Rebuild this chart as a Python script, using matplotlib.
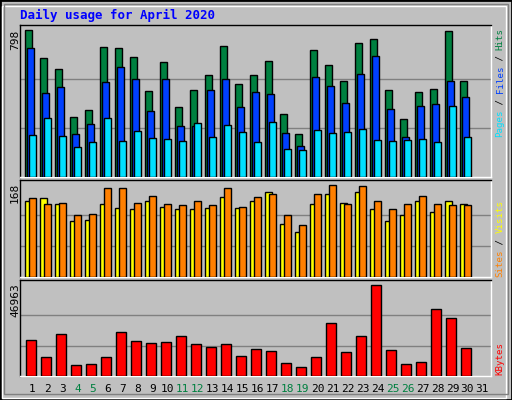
import matplotlib
matplotlib.use("Agg")
import matplotlib.pyplot as plt
import numpy as np

days = list(range(1, 32))
hits_y = [88,172,205,349,328,139,142,169,271,184,319,268,223,136,250,223,181,340,400,148,193,241,127,115,268,355,274,265,91,241]
files_y = [142,277,259,400,370,244,199,235,331,235,376,376,268,235,319,274,280,397,436,229,256,307,220,166,325,409,316,310,241,289]
pages_y = [403,352,406,439,424,352,421,391,412,415,421,367,409,373,394,424,364,445,448,388,397,394,385,418,421,418,415,424,316,409]
hits = [round((530-v)*798/442) for v in hits_y]
files = [round((530-v)*798/442) for v in files_y]
pages = [round((530-v)*798/442) for v in pages_y]
vis_y = [76,70,85,136,133,85,97,100,76,94,103,100,97,64,97,76,49,145,169,85,58,82,49,100,136,121,76,109,76,88]
site_y = [67,85,82,118,115,40,40,82,61,85,91,76,91,40,94,64,58,118,148,58,28,85,31,76,103,88,61,88,91,91]
visits = [round((305-v)*168/277) for v in vis_y]
sites = [round((305-v)*168/277) for v in site_y]
kb_y = [493,544,475,568,565,544,469,496,502,499,481,505,514,505,541,520,526,562,574,544,442,529,481,328,523,565,559,400,427,517]
kbytes = [round((602-v)*46963/274) for v in kb_y]
weekend = [4,5,11,12,18,19,25,26]
max_hits, max_sites, max_kb = 798, 168, 46963

W, H = 512, 400
fig = plt.figure(figsize=(W/100, H/100), dpi=100)
fig.patch.set_facecolor('#c0c0c0')
fig.add_artist(plt.Rectangle((0, 0), 1, 1, transform=fig.transFigure, fill=False, ec='black', lw=2))
fig.add_artist(plt.Rectangle((2/W, 2/H), 1-8/W, 1-8/H, transform=fig.transFigure, fill=False, ec='white', lw=1))
fig.add_artist(plt.Rectangle((4/W, 6/H), 1-8/W, 1-10/H, transform=fig.transFigure, fill=False, ec='#808080', lw=1))

def ax_at(x0, y0, x1, y1):
    a = fig.add_axes([x0/W, 1-y1/H, (x1-x0)/W, (y1-y0)/H])
    a.set_facecolor('#c0c0c0')
    a.set_xlim(0.67, 0.67+471/15)
    a.set_xticks([]); a.set_yticks([])
    for s in a.spines.values():
        s.set_color('white'); s.set_linewidth(1)
    a.spines['left'].set_color('black'); a.spines['top'].set_color('black')
    return a

d = np.arange(1, 31)
bw = 7/15
kw = dict(align='edge', ec='black', lw=1, zorder=3)

a1 = ax_at(20, 25, 491, 177)
for g in (1/3, 2/3):
    a1.axhline(max_hits*g, color='#808080', lw=1, zorder=1)
a1.bar(d, hits, bw, color='#008040', **kw)
a1.bar(d+2/15, files, bw, color='#0040ff', **kw)
a1.bar(d+4/15, pages, bw, color='#00e0ff', **kw)
a1.set_ylim(0, max_hits*152/147.4)

a2 = ax_at(20, 180, 491, 277)
for g in (1/3, 2/3):
    a2.axhline(max_sites*g, color='#808080', lw=1, zorder=1)
a2.bar(d, visits, bw, color='#ffff00', **kw)
a2.bar(d+4/15, sites, bw, color='#ff8000', **kw)
a2.set_ylim(0, max_sites*97/92.4)

a3 = ax_at(20, 280, 491, 376)
for g in (1/3, 2/3):
    a3.axhline(max_kb*g, color='#808080', lw=1, zorder=1)
a3.bar(d+1/15, kbytes, 10/15, color='#ff0000', **kw)
a3.set_ylim(0, max_kb*96/91.4)

mono = 'DejaVu Sans Mono'
fig.text(20/W, 1-15/H, 'Daily usage for April 2020', color='#0000ff', family=mono,
         weight='bold', fontsize=9, va='center')
fig.text(15/W, 1-40/H, str(max_hits), rotation=90, family=mono, fontsize=8, ha='center', va='center')
fig.text(15/W, 1-193/H, str(max_sites), rotation=90, family=mono, fontsize=8, ha='center', va='center')
fig.text(15/W, 1-300/H, str(max_kb), rotation=90, family=mono, fontsize=8, ha='center', va='center')

def vstack(x, ybottom, parts, adv=5.45):
    y = ybottom
    for txt, col in parts:
        fig.text(x/W, 1-y/H, txt, rotation=90, color=col, family=mono, fontsize=6.6,
                 ha='center', va='bottom')
        y -= len(txt)*adv
vstack(500, 137, [('Pages', '#00e0ff'), (' / ', '#000000'), ('Files', '#0040ff'), (' / ', '#000000'), ('Hits', '#008040')])
vstack(500, 277, [('Sites', '#ff8000'), (' / ', '#000000'), ('Visits', '#ffff00')])
vstack(500, 375, [('KBytes', '#ff0000')])

for day in days:
    x = a3.transData.transform((day+0.5, 0))[0]
    fig.text(x/fig.dpi/fig.get_figwidth(), 1-389/H, str(day), family=mono, fontsize=8,
             ha='center', va='center', color='#008040' if day in weekend else 'black')

fig.savefig('out.png', dpi=100, facecolor=fig.get_facecolor())
